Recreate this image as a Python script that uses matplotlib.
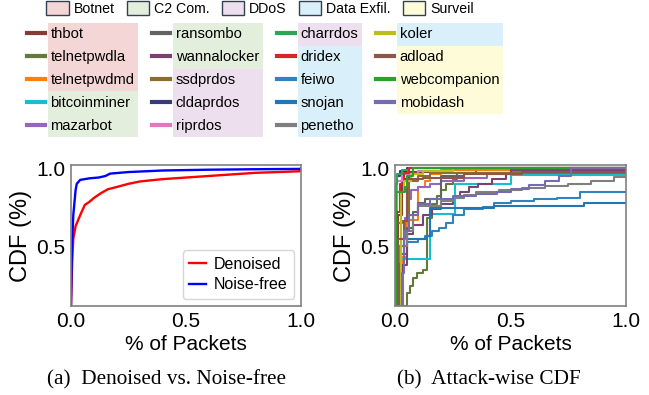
import matplotlib
matplotlib.use("Agg")
import matplotlib.pyplot as plt
from matplotlib.patches import Patch, Rectangle
from matplotlib.lines import Line2D

plt.rcParams.update({
    'font.family': ['Liberation Sans', 'DejaVu Sans'],
    'xtick.labelsize': 15, 'ytick.labelsize': 15,
    'axes.labelsize': 15,
})

# ---- data: left panel (Denoised vs Noise-free CDF) ----
denoised_x = [0, 0.005, 0.01, 0.02, 0.04, 0.06, 0.08, 0.1, 0.13, 0.16, 0.2, 0.25,
              0.3, 0.4, 0.5, 0.6, 0.7, 0.8, 0.9, 0.995, 1.0]
denoised_y = [0.12, 0.40, 0.55, 0.63, 0.70, 0.765, 0.785, 0.81, 0.84, 0.865, 0.88, 0.90,
              0.915, 0.93, 0.94, 0.95, 0.96, 0.97, 0.975, 0.98, 0.99]
noisefree_x = [0, 0.004, 0.01, 0.02, 0.025, 0.04, 0.08, 0.12, 0.15, 0.17, 0.25, 0.4,
               0.6, 0.8, 0.995, 1.0]
noisefree_y = [0.12, 0.50, 0.70, 0.86, 0.90, 0.925, 0.935, 0.94, 0.95, 0.965, 0.975, 0.985,
               0.99, 0.993, 0.995, 1.0]

# ---- data: right panel (attack-wise CDF, step curves) ----
attacks = ["thbot", "telnetpwdla", "telnetpwdmd", "bitcoinminer", "mazarbot",
           "ransombo", "wannalocker", "ssdprdos", "cldaprdos", "riprdos",
           "charrdos", "dridex", "feiwo", "snojan", "penetho",
           "koler", "adload", "webcompanion", "mobidash"]
attack_cat = ["Botnet", "Botnet", "Botnet", "C2 Com.", "C2 Com.",
              "C2 Com.", "C2 Com.", "DDoS", "DDoS", "DDoS",
              "DDoS", "Data Exfil.", "Data Exfil.", "Data Exfil.", "Data Exfil.",
              "Data Exfil.", "Surveil", "Surveil", "Surveil"]
attack_colors = ["#843c39", "#637939", "#ff7f0e", "#17becf", "#9467bd",
                 "#636363", "#7b4173", "#8c6d31", "#393b79", "#e377c2",
                 "#31a354", "#d62728", "#3182bd", "#1f77b4", "#7f7f7f",
                 "#bcbd22", "#8c564b", "#2ca02c", "#756bb1"]
attack_x = {
    "thbot": [0, 0.015, 0.03, 0.06, 0.2, 1.0],
    "telnetpwdla": [0.043, 0.05, 0.065, 0.08, 0.095, 0.12, 0.14, 0.16, 0.18, 0.2, 0.22,
                    0.25, 0.27, 0.35, 1.0],
    "telnetpwdmd": [0.025, 0.03, 0.05, 0.1, 0.13, 0.15, 0.2, 1.0],
    "bitcoinminer": [0.015, 0.02, 0.15, 0.26, 0.5, 1.0],
    "mazarbot": [0.03, 0.035, 0.04, 0.045, 0.05, 0.07, 0.1, 0.15, 0.2, 0.3, 0.4, 0.5,
                 0.62, 1.0],
    "ransombo": [0.01, 0.02, 0.05, 0.08, 0.1, 0.13, 0.2, 0.3, 0.5, 1.0],
    "wannalocker": [0.02, 0.03, 0.05, 0.08, 0.12, 0.16, 0.2, 0.25, 0.28, 0.32, 0.36,
                    0.42, 0.48, 0.5, 1.0],
    "ssdprdos": [0.005, 0.01, 0.03, 0.06, 0.1, 0.15, 1.0],
    "cldaprdos": [0, 0.005, 0.01, 0.02, 0.05, 1.0],
    "riprdos": [0, 0.01, 0.03, 0.1, 0.2, 1.0],
    "charrdos": [0, 0.003, 0.01, 0.03, 0.06, 1.0],
    "dridex": [0, 0.01, 0.02, 0.04, 0.06, 1.0],
    "feiwo": [0, 0.01, 0.05, 0.1, 0.13, 0.16, 0.19, 0.22, 0.25, 0.3, 0.38, 0.43, 0.5,
              0.6, 0.7, 0.8, 1.0],
    "snojan": [0.005, 0.01, 0.05, 0.14, 0.15, 0.43, 0.82, 1.0],
    "penetho": [0.005, 0.01, 0.02, 0.05, 0.08, 0.1, 0.15, 0.2, 0.25, 0.3, 0.35, 0.45,
                0.55, 0.65, 0.75, 0.85, 0.95, 1.0],
    "koler": [0.02, 0.025, 0.04, 0.07, 0.12, 0.25, 1.0],
    "adload": [0.01, 0.015, 0.04, 0.05, 0.12, 0.3, 0.55, 1.0],
    "webcompanion": [0, 0.005, 0.045, 0.05, 0.08, 1.0],
    "mobidash": [0.02, 0.03, 0.04, 0.06, 0.1, 0.15, 0.25, 0.35, 0.44, 0.5, 0.58, 0.65,
                 0.71, 0.76, 1.0],
}
attack_y = {
    "thbot": [0.12, 0.70, 0.93, 0.975, 0.99, 0.99],
    "telnetpwdla": [0.12, 0.20, 0.25, 0.30, 0.33, 0.35, 0.68, 0.77, 0.82, 0.86, 0.90,
                    0.93, 0.97, 1.0, 1.0],
    "telnetpwdmd": [0.12, 0.43, 0.67, 0.88, 0.92, 0.96, 0.99, 0.99],
    "bitcoinminer": [0.12, 0.42, 0.71, 0.90, 0.955, 0.955],
    "mazarbot": [0.12, 0.35, 0.55, 0.68, 0.80, 0.86, 0.88, 0.90, 0.92, 0.94, 0.96, 0.98,
                 1.0, 1.0],
    "ransombo": [0.12, 0.45, 0.62, 0.72, 0.78, 0.80, 0.95, 0.97, 0.99, 0.99],
    "wannalocker": [0.12, 0.38, 0.58, 0.64, 0.70, 0.74, 0.77, 0.81, 0.85, 0.88, 0.90,
                    0.93, 0.96, 0.99, 0.99],
    "ssdprdos": [0.12, 0.65, 0.66, 0.92, 0.95, 0.97, 0.97],
    "cldaprdos": [0.12, 0.90, 0.95, 0.98, 1.0, 1.0],
    "riprdos": [0.12, 0.92, 0.96, 0.98, 1.0, 1.0],
    "charrdos": [0.12, 0.90, 0.96, 0.99, 1.0, 1.0],
    "dridex": [0.12, 0.72, 0.90, 0.97, 1.0, 1.0],
    "feiwo": [0.12, 0.50, 0.53, 0.55, 0.57, 0.60, 0.62, 0.65, 0.70, 0.74, 0.75, 0.78,
              0.79, 0.80, 0.81, 0.85, 0.85],
    "snojan": [0.12, 0.50, 0.55, 0.57, 0.743, 0.761, 0.78, 0.78],
    "penetho": [0.12, 0.40, 0.50, 0.60, 0.70, 0.76, 0.76, 0.79, 0.81, 0.83, 0.85, 0.86,
                0.875, 0.885, 0.90, 0.92, 0.945, 0.95],
    "koler": [0.12, 0.85, 0.92, 0.96, 0.98, 1.0, 1.0],
    "adload": [0.12, 0.55, 0.66, 0.93, 0.94, 0.96, 0.975, 0.975],
    "webcompanion": [0.12, 0.85, 0.88, 0.95, 1.0, 1.0],
    "mobidash": [0.12, 0.33, 0.60, 0.70, 0.77, 0.80, 0.82, 0.835, 0.85, 0.87, 0.89, 0.92,
                 0.95, 1.0, 1.0],
}

categories = ["Botnet", "C2 Com.", "DDoS", "Data Exfil.", "Surveil"]
cat_colors = {"Botnet": "#f4d6d6", "C2 Com.": "#e3efdc", "DDoS": "#eedfee",
              "Data Exfil.": "#d9effa", "Surveil": "#fefcd8"}

W, H = 649, 395
fig = plt.figure(figsize=(W / 100, H / 100), dpi=100)
ax1 = fig.add_axes([71 / W, 1 - 306 / H, 230 / W, 141 / H])
ax2 = fig.add_axes([395 / W, 1 - 306 / H, 231 / W, 141 / H])

ax1.plot(denoised_x, denoised_y, color="#ff0000", lw=1.7, label="Denoised")
ax1.plot(noisefree_x, noisefree_y, color="#0000ff", lw=1.7, label="Noise-free")
ax1.legend(loc="lower right", fontsize=11.5, handlelength=1.1, handletextpad=0.45,
           labelspacing=0.35, borderaxespad=0.45, fancybox=True, edgecolor="#cccccc")

for name, c in zip(attacks, attack_colors):
    ax2.plot(attack_x[name], attack_y[name], color=c, lw=1.5, drawstyle="steps-post")

for ax in (ax1, ax2):
    ax.set_xlim(0, 1.0)
    ax.set_ylim(0.12, 1.02)
    ax.set_xticks([0, 0.5, 1.0])
    ax.set_yticks([0.5, 1.0])
    ax.tick_params(length=0, pad=4)
    ax.set_xlabel("% of Packets", labelpad=3)
    ax.set_ylabel("CDF (%)", fontsize=17, labelpad=3)
    for s in ax.spines.values():
        s.set_color("#808080")
        s.set_linewidth(1.2)

# category legend (top row)
cat_handles = [Patch(facecolor=cat_colors[c], edgecolor="#33404d", lw=1.0, label=c)
               for c in categories]
fig.legend(handles=cat_handles, loc="center", bbox_to_anchor=(260 / W, 1 - 8.5 / H),
           ncol=5, frameon=False, fontsize=10.2, handlelength=1.6, handleheight=1.15,
           handletextpad=0.33, columnspacing=0.85, borderpad=0)

# attack legend
line_handles = [Line2D([], [], color=c, lw=3, label=n)
                for n, c in zip(attacks, attack_colors)]
leg = fig.legend(handles=line_handles, loc="center",
                 bbox_to_anchor=(263 / W, 1 - 80 / H), ncol=4, frameon=False,
                 fontsize=10.6, handlelength=1.22, handletextpad=0.39,
                 columnspacing=1.2, labelspacing=0.6, borderpad=0)

# captions
fig.text(166 / W, 1 - 380 / H, "(a)  Denoised vs. Noise-free", family="Liberation Serif",
         fontsize=15.3, ha="center", va="center")
fig.text(489 / W, 1 - 380 / H, "(b)  Attack-wise CDF", family="Liberation Serif",
         fontsize=15.3, ha="center", va="center")

# coloured category boxes behind the attack labels
fig.canvas.draw()
r = fig.canvas.get_renderer()
texts = leg.get_texts()
boxes = [t.get_window_extent(r) for t in texts]
cols = [range(0, 5), range(5, 10), range(10, 15), range(15, 19)]
pitch = (boxes[0].y0 + boxes[0].y1) / 2 - (boxes[1].y0 + boxes[1].y1) / 2
inv = fig.transFigure.inverted()
for col in cols:
    x0 = min(boxes[i].x0 for i in col) - 2.5
    x1 = max(boxes[i].x1 for i in col) + 3.5
    for i in col:
        yc = (boxes[i].y0 + boxes[i].y1) / 2
        (fx0, fy0), (fx1, fy1) = inv.transform([(x0, yc - pitch / 2), (x1, yc + pitch / 2)])
        fig.add_artist(Rectangle((fx0, fy0), fx1 - fx0, fy1 - fy0,
                                 facecolor=cat_colors[attack_cat[i]], edgecolor="none",
                                 transform=fig.transFigure, zorder=0))

fig.savefig("out.png", dpi=100)
